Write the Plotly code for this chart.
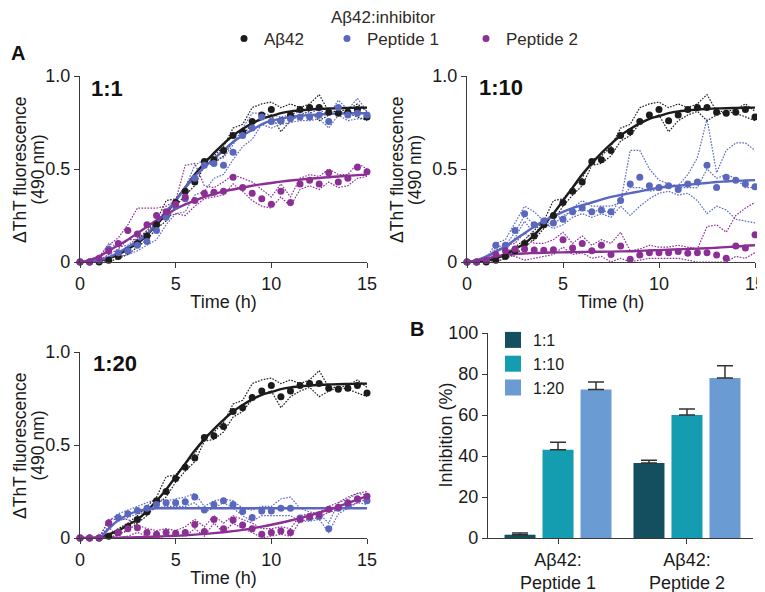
import plotly.graph_objects as go

# ---------------- data ----------------
TIME = [0, 0.5, 1, 1.5, 2, 2.5, 3, 3.5, 4, 4.5, 5, 5.5, 6, 6.5, 7, 7.5,
        8, 8.5, 9, 9.5, 10, 10.5, 11, 11.5, 12, 12.5, 13, 13.5, 14, 14.5, 15]

# Aβ42 alone (same curve shown in every panel)
AB42_MEAN = [0, 0, 0, 0.01, 0.03, 0.06, 0.10, 0.14, 0.20, 0.25, 0.32, 0.38, 0.43, 0.54, 0.55, 0.60,
             0.68, 0.70, 0.755, 0.79, 0.82, 0.76, 0.79, 0.82, 0.83, 0.83, 0.805, 0.80, 0.805, 0.82, 0.78]
AB42_REP_HI = [0, 0, 0, 0.02, 0.05, 0.08, 0.12, 0.17, 0.22, 0.33, 0.34, 0.40, 0.45, 0.55, 0.57, 0.62,
               0.72, 0.74, 0.83, 0.85, 0.86, 0.83, 0.85, 0.83, 0.85, 0.90, 0.81, 0.81, 0.82, 0.85, 0.81]
AB42_REP_LO = [0, 0, 0, 0, 0.02, 0.04, 0.08, 0.12, 0.18, 0.22, 0.30, 0.36, 0.41, 0.52, 0.53, 0.57,
               0.65, 0.68, 0.745, 0.77, 0.79, 0.70, 0.76, 0.79, 0.81, 0.76, 0.79, 0.81, 0.80, 0.78, 0.76]
AB42_FIT = [0, 0, 0.005, 0.02, 0.04, 0.07, 0.10, 0.145, 0.20, 0.26, 0.33, 0.40, 0.47, 0.53, 0.585, 0.635,
            0.68, 0.715, 0.745, 0.77, 0.785, 0.80, 0.81, 0.815, 0.82, 0.823, 0.825, 0.827, 0.828, 0.829, 0.83]

# 1:1 Peptide 1
P1_11_MEAN = [0, 0, 0.01, 0.07, 0.05, 0.06, 0.09, 0.11, 0.17, 0.24, 0.30, 0.34, 0.45, 0.52, 0.53, 0.52,
              0.59, 0.68, 0.72, 0.78, 0.755, 0.76, 0.77, 0.78, 0.78, 0.79, 0.755, 0.83, 0.79, 0.80, 0.79]
P1_11_REP_HI = [0, 0, 0.02, 0.10, 0.08, 0.09, 0.13, 0.14, 0.22, 0.28, 0.33, 0.40, 0.52, 0.55, 0.56, 0.56,
                0.63, 0.72, 0.80, 0.80, 0.79, 0.78, 0.79, 0.81, 0.80, 0.82, 0.79, 0.87, 0.82, 0.88, 0.81]
P1_11_REP_LO = [0, 0, 0, 0.04, 0.03, 0.04, 0.06, 0.09, 0.12, 0.20, 0.26, 0.27, 0.36, 0.38, 0.45, 0.47,
                0.55, 0.62, 0.66, 0.74, 0.72, 0.74, 0.75, 0.76, 0.76, 0.77, 0.72, 0.79, 0.76, 0.77, 0.77]
P1_11_FIT = [0, 0.002, 0.01, 0.025, 0.05, 0.08, 0.11, 0.15, 0.21, 0.27, 0.33, 0.40, 0.46, 0.51, 0.555, 0.60,
             0.645, 0.68, 0.71, 0.74, 0.76, 0.77, 0.78, 0.785, 0.79, 0.793, 0.796, 0.798, 0.80, 0.80, 0.80]

# 1:1 Peptide 2
P2_11_MEAN = [0, 0, 0.02, 0.06, 0.10, 0.17, 0.15, 0.20, 0.25, 0.27, 0.31, 0.35, 0.33, 0.37, 0.375, 0.38,
              0.455, 0.40, 0.37, 0.34, 0.31, 0.38, 0.32, 0.42, 0.44, 0.42, 0.48, 0.43, 0.45, 0.51, 0.485]
P2_11_REP_HI = [0, 0, 0.03, 0.09, 0.13, 0.20, 0.29, 0.29, 0.29, 0.30, 0.33, 0.52, 0.53, 0.41, 0.40, 0.43,
                0.47, 0.45, 0.43, 0.39, 0.35, 0.42, 0.35, 0.45, 0.47, 0.46, 0.50, 0.47, 0.47, 0.53, 0.50]
P2_11_REP_LO = [0, 0, 0.01, 0.04, 0.07, 0.12, 0.12, 0.16, 0.21, 0.24, 0.26, 0.25, 0.30, 0.34, 0.35, 0.36,
                0.42, 0.38, 0.33, 0.30, 0.29, 0.35, 0.30, 0.39, 0.41, 0.39, 0.43, 0.40, 0.41, 0.45, 0.46]
P2_11_FIT = [0, 0.01, 0.03, 0.06, 0.09, 0.12, 0.155, 0.19, 0.225, 0.255, 0.285, 0.31, 0.33, 0.35, 0.365, 0.38,
             0.39, 0.40, 0.41, 0.418, 0.425, 0.432, 0.438, 0.443, 0.448, 0.452, 0.456, 0.46, 0.464, 0.467, 0.47]

# 1:10 Peptide 1
P1_110_MEAN = [0, 0, 0.01, 0.09, 0.09, 0.17, 0.26, 0.20, 0.22, 0.21, 0.23, 0.27, 0.29, 0.27, 0.28, 0.27,
               0.33, 0.42, 0.455, 0.41, 0.40, 0.41, 0.39, 0.42, 0.43, 0.52, 0.40, 0.455, 0.44, 0.42, 0.405]
P1_110_REP_A = [0, 0, 0.02, 0.10, 0.12, 0.21, 0.30, 0.27, 0.22, 0.26, 0.23, 0.29, 0.33, 0.30, 0.30, 0.30,
                0.32, 0.60, 0.60, 0.50, 0.44, 0.42, 0.41, 0.47, 0.56, 0.77, 0.48, 0.60, 0.64, 0.64, 0.60]
P1_110_REP_B = [0, 0, 0.01, 0.08, 0.09, 0.16, 0.25, 0.20, 0.22, 0.20, 0.25, 0.27, 0.28, 0.27, 0.28, 0.26,
                0.34, 0.40, 0.40, 0.38, 0.39, 0.42, 0.40, 0.40, 0.40, 0.50, 0.45, 0.47, 0.45, 0.40, 0.40]
P1_110_REP_C = [0, 0, 0, 0.07, 0.06, 0.13, 0.22, 0.15, 0.21, 0.18, 0.20, 0.24, 0.26, 0.24, 0.26, 0.24,
                0.30, 0.25, 0.30, 0.34, 0.37, 0.38, 0.36, 0.37, 0.33, 0.26, 0.30, 0.28, 0.23, 0.22, 0.21]
P1_110_FIT = [0, 0.01, 0.03, 0.055, 0.084, 0.12, 0.155, 0.19, 0.22, 0.245, 0.27, 0.29, 0.305, 0.32, 0.335, 0.35,
              0.36, 0.37, 0.38, 0.39, 0.40, 0.405, 0.41, 0.415, 0.42, 0.425, 0.43, 0.433, 0.436, 0.438, 0.44]

# 1:10 Peptide 2
P2_110_MEAN = [0, 0, 0.01, 0.04, 0.06, 0.07, 0.07, 0.065, 0.063, 0.066, 0.12, 0.075, 0.10, 0.06, 0.09, 0.04,
               0.086, 0.015, 0.038, 0.05, 0.05, 0.05, 0.056, 0.047, 0.05, 0.05, 0.038, 0.02, 0.086, 0.075, 0.146]
P2_110_REP_HI = [0, 0, 0.02, 0.06, 0.09, 0.10, 0.16, 0.10, 0.10, 0.12, 0.16, 0.10, 0.14, 0.09, 0.12, 0.10,
                 0.16, 0.06, 0.07, 0.09, 0.08, 0.08, 0.09, 0.08, 0.07, 0.19, 0.20, 0.16, 0.25, 0.29, 0.32]
P2_110_REP_LO = [0, 0, 0, 0.03, 0.04, 0.03, 0.01, 0.02, 0.03, 0.04, 0.08, 0.04, 0.05, 0.02, 0.03, 0.0,
                 0.02, 0.0, 0.01, 0.02, 0.02, 0.02, 0.02, 0.01, 0.0, 0.0, 0.0, 0.0, 0.03, 0.02, 0.05]
P2_110_FIT = [0, 0.008, 0.018, 0.03, 0.038, 0.043, 0.046, 0.048, 0.05, 0.051, 0.052, 0.053, 0.054, 0.055, 0.055, 0.056,
              0.057, 0.058, 0.06, 0.062, 0.064, 0.066, 0.068, 0.07, 0.072, 0.074, 0.077, 0.08, 0.083, 0.087, 0.09]

# 1:20 Peptide 1
P1_120_MEAN = [0, 0, 0, 0.08, 0.11, 0.13, 0.148, 0.16, 0.18, 0.19, 0.19, 0.195, 0.22, 0.15, 0.18, 0.20,
               0.18, 0.143, 0.11, 0.145, 0.145, 0.16, 0.16, 0.107, 0.11, 0.115, 0.05, 0.16, 0.18, 0.21, 0.20]
P1_120_REP_HI = [0, 0, 0, 0.09, 0.13, 0.15, 0.17, 0.19, 0.21, 0.20, 0.21, 0.22, 0.24, 0.17, 0.20, 0.21,
                 0.20, 0.16, 0.15, 0.17, 0.17, 0.21, 0.22, 0.16, 0.14, 0.13, 0.08, 0.19, 0.21, 0.24, 0.23]
P1_120_REP_LO = [0, 0, 0, 0.06, 0.09, 0.11, 0.13, 0.14, 0.16, 0.17, 0.17, 0.17, 0.19, 0.14, 0.16, 0.19,
                 0.16, 0.12, 0.09, 0.12, 0.12, 0.12, 0.12, 0.09, 0.09, 0.10, 0.03, 0.13, 0.16, 0.19, 0.18]
P1_120_FIT = [0, 0, 0, 0.05, 0.095, 0.125, 0.145, 0.155, 0.16, 0.16, 0.16, 0.16, 0.16, 0.16, 0.16, 0.16,
              0.16, 0.16, 0.16, 0.16, 0.16, 0.16, 0.16, 0.16, 0.16, 0.16, 0.16, 0.16, 0.16, 0.16, 0.16]

# 1:20 Peptide 2
P2_120_MEAN = [0, 0, 0, 0.08, 0.03, 0.05, 0.055, 0.03, 0.02, 0.03, 0.025, 0.03, 0.073, 0.035, 0.10, 0.05,
               0.097, 0.07, 0.05, 0.02, 0.03, 0.038, 0.03, 0.10, 0.115, 0.125, 0.154, 0.165, 0.19, 0.21, 0.225]
P2_120_REP_HI = [0, 0, 0, 0.10, 0.10, 0.10, 0.07, 0.05, 0.04, 0.05, 0.04, 0.06, 0.10, 0.06, 0.12, 0.08,
                 0.12, 0.10, 0.08, 0.05, 0.05, 0.06, 0.05, 0.12, 0.13, 0.14, 0.17, 0.19, 0.22, 0.24, 0.25]
P2_120_REP_LO = [0, 0, 0, 0.06, 0.0, 0.01, 0.03, 0.01, 0.0, 0.01, 0.01, 0.01, 0.05, 0.01, 0.08, 0.03,
                 0.08, 0.05, 0.03, 0.0, 0.01, 0.02, 0.01, 0.09, 0.10, 0.11, 0.14, 0.15, 0.17, 0.19, 0.21]
P2_120_FIT = [0, 0, 0, 0.001, 0.002, 0.003, 0.004, 0.006, 0.008, 0.01, 0.012, 0.015, 0.018, 0.022, 0.026, 0.031,
              0.037, 0.044, 0.052, 0.061, 0.071, 0.082, 0.094, 0.107, 0.121, 0.136, 0.152, 0.169, 0.187, 0.206, 0.225]

# Panel B: inhibition (%)
BAR_GROUPS = ["Aβ42:<br>Peptide 1", "Aβ42:<br>Peptide 2"]
RATIO_NAMES = ["1:1", "1:10", "1:20"]
INHIB_11 = [1.6, 36.6]
INHIB_110 = [43.1, 60.0]
INHIB_120 = [72.4, 78.0]
ERR_11 = [0.8, 1.3]
ERR_110 = [3.6, 2.9]
ERR_120 = [3.7, 6.0]

SERIES_NAMES = ["Aβ42", "Peptide 1", "Peptide 2"]
Y_TITLE_LINES = ["ΔThT fluorescence", "(490 nm)"]

# ---------------- styling ----------------
FONT = "Liberation Sans, Arial, Helvetica, sans-serif"
C_AB = "#1c1c1c"
C_P1 = "#5a67bf"
C_P2 = "#8c2f95"
BAR_COLORS = ["#134f5f", "#149db1", "#6a9bd3"]
AXC = "#3a3a3a"
LEGEND_W = {"Aβ42": 58, "Peptide 1": 94, "Peptide 2": 76}

panels = [
    ("x", "y", [
        (C_AB, SERIES_NAMES[0], [AB42_REP_HI, AB42_REP_LO], AB42_FIT, AB42_MEAN),
        (C_P1, SERIES_NAMES[1], [P1_11_REP_HI, P1_11_REP_LO], P1_11_FIT, P1_11_MEAN),
        (C_P2, SERIES_NAMES[2], [P2_11_REP_HI, P2_11_REP_LO], P2_11_FIT, P2_11_MEAN)]),
    ("x2", "y2", [
        (C_AB, SERIES_NAMES[0], [AB42_REP_HI, AB42_REP_LO], AB42_FIT, AB42_MEAN),
        (C_P1, SERIES_NAMES[1], [P1_110_REP_A, P1_110_REP_B, P1_110_REP_C], P1_110_FIT, P1_110_MEAN),
        (C_P2, SERIES_NAMES[2], [P2_110_REP_HI, P2_110_REP_LO], P2_110_FIT, P2_110_MEAN)]),
    ("x3", "y3", [
        (C_AB, SERIES_NAMES[0], [AB42_REP_HI, AB42_REP_LO], AB42_FIT, AB42_MEAN),
        (C_P1, SERIES_NAMES[1], [P1_120_REP_HI, P1_120_REP_LO], P1_120_FIT, P1_120_MEAN),
        (C_P2, SERIES_NAMES[2], [P2_120_REP_HI, P2_120_REP_LO], P2_120_FIT, P2_120_MEAN)]),
]

fig = go.Figure()

for pi, (xa, ya, series) in enumerate(panels):
    for color, name, reps, fit, mean in series:
        for rep in reps:
            fig.add_trace(go.Scatter(x=TIME, y=rep, mode="lines", xaxis=xa, yaxis=ya,
                                     line=dict(color=color, width=1.2, dash="1.6px,1.4px"),
                                     showlegend=False, hoverinfo="skip", cliponaxis=False))
    for color, name, reps, fit, mean in series:
        fig.add_trace(go.Scatter(x=TIME, y=fit, mode="lines", xaxis=xa, yaxis=ya,
                                 line=dict(color=color, width=2.4, shape="spline"),
                                 showlegend=False, hoverinfo="skip", cliponaxis=False))
    for color, name, reps, fit, mean in series:
        fig.add_trace(go.Scatter(x=TIME, y=mean, mode="markers", xaxis=xa, yaxis=ya,
                                 marker=dict(color=color, size=7), name=name,
                                 legend="legend", legendgroup=name, legendwidth=LEGEND_W[name],
                                 showlegend=(pi == 0), cliponaxis=False))

for vals, errs, color, rname in zip([INHIB_11, INHIB_110, INHIB_120], [ERR_11, ERR_110, ERR_120],
                                    BAR_COLORS, RATIO_NAMES):
    fig.add_trace(go.Bar(x=BAR_GROUPS, y=vals, xaxis="x4", yaxis="y4", name=rname,
                         marker=dict(color=color, line=dict(width=0)),
                         error_y=dict(type="data", symmetric=False, array=errs, arrayminus=[0] * len(errs),
                                      color="#333333", thickness=1.5, width=8),
                         showlegend=False, legendgroup=rname))
    fig.add_trace(go.Scatter(x=[None], y=[None], mode="markers", xaxis="x4", yaxis="y4", name=rname,
                             marker=dict(color=color, symbol="square", size=16),
                             legend="legend2", legendgroup=rname, showlegend=True))

ax_common = dict(showline=True, linecolor=AXC, linewidth=1.3, ticks="outside", ticklen=5,
                 tickwidth=1.3, tickcolor=AXC, showgrid=False, zeroline=False, automargin=False,
                 ticklabeloverflow="allow", tickfont=dict(size=18, color="#1a1a1a"))

# the page body has an 8px margin, so the figure sits at (8, 8) in the window
OFF = 8
W, H = 765 - OFF, 592 - OFF
def sx(px):
    return (px - OFF) / W
def sy(py):
    return 1 - (py - OFF) / H
def xd(a, b):
    return [sx(a), sx(b)]
def yd(top, bottom):
    return [sy(bottom), sy(top)]

xline = dict(range=[0, 15], tickvals=[0, 5, 10, 15],
             title=dict(text="Time (h)", font=dict(size=18), standoff=2), **ax_common)
yline = dict(range=[0, 1], tickvals=[0, 0.5, 1], ticktext=["0", "0.5", "1.0"], **ax_common)

annotations = [
    dict(text="Aβ42:inhibitor", xref="paper", yref="paper", x=sx(383), y=sy(18),
         xanchor="center", yanchor="middle", showarrow=False, font=dict(size=17, color="#2e2a26")),
    dict(text="Inhibition (%)", xref="paper", yref="paper", x=sx(445), y=sy(435.5),
         textangle=-90, xanchor="center", yanchor="middle", showarrow=False,
         font=dict(size=18, color="#1a1a1a")),
    dict(text="<b>1:1</b>", xref="x domain", yref="y domain", x=0.031, y=0.935,
         xanchor="left", yanchor="middle", showarrow=False, font=dict(size=22, color="#111")),
    dict(text="<b>1:10</b>", xref="x2 domain", yref="y2 domain", x=0.035, y=0.94,
         xanchor="left", yanchor="middle", showarrow=False, font=dict(size=22, color="#111")),
    dict(text="<b>1:20</b>", xref="x3 domain", yref="y3 domain", x=0.038, y=0.94,
         xanchor="left", yanchor="middle", showarrow=False, font=dict(size=22, color="#111")),
    dict(text="<b>A</b>", xref="paper", yref="paper", x=sx(9), y=sy(53),
         xanchor="left", yanchor="middle", showarrow=False, font=dict(size=20, color="#111")),
    dict(text="<b>B</b>", xref="paper", yref="paper", x=sx(417), y=sy(329),
         xanchor="center", yanchor="middle", showarrow=False, font=dict(size=20, color="#111")),
]
# two-line y-axis titles of the three kinetics panels
for (x1, x2, yc) in [(20, 37.5, 170), (397, 415, 170), (20, 37.5, 446)]:
    for line_text, xc in zip(Y_TITLE_LINES, (x1, x2)):
        annotations.append(dict(text=line_text, xref="paper", yref="paper", x=sx(xc), y=sy(yc),
                                textangle=-90, xanchor="center", yanchor="middle", showarrow=False,
                                font=dict(size=17.5, color="#1a1a1a")))

fig.update_layout(
    template="none",
    width=W, height=H,
    margin=dict(l=0, r=0, t=0, b=0, pad=0),
    paper_bgcolor="white", plot_bgcolor="white",
    font=dict(family=FONT, size=18, color="#1a1a1a"),
    barmode="group", bargap=0.116, bargroupgap=0.184,
    xaxis=dict(domain=xd(80, 367), anchor="y", **xline),
    yaxis=dict(domain=yd(76, 262), anchor="x", **yline),
    xaxis2=dict(domain=xd(467, 755), anchor="y2", **xline),
    yaxis2=dict(domain=yd(76, 262), anchor="x2", **yline),
    xaxis3=dict(domain=xd(80, 367), anchor="y3", **xline),
    yaxis3=dict(domain=yd(352, 538), anchor="x3", **yline),
    xaxis4=dict(domain=xd(488, 753), anchor="y4", type="category", range=[-0.543, 1.512],
                **ax_common),
    yaxis4=dict(domain=yd(333, 538), anchor="x4", range=[0, 100], tickvals=[0, 20, 40, 60, 80, 100],
                **ax_common),
    legend=dict(orientation="h", x=sx(224), xanchor="left", y=sy(21), yanchor="top",
                font=dict(size=17, color="#2e2a26"), bgcolor="rgba(0,0,0,0)", itemsizing="trace"),
    legend2=dict(orientation="v", x=sx(493), xanchor="left", y=sy(323), yanchor="top",
                 font=dict(size=16, color="#1a1a1a"), bgcolor="rgba(0,0,0,0)", itemsizing="trace",
                 tracegroupgap=0),
    annotations=annotations,
)

fig.write_html("out.html")
